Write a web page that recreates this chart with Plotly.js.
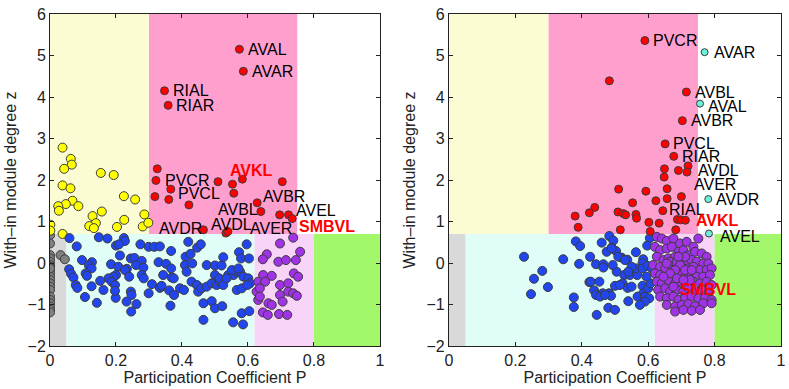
<!DOCTYPE html>
<html>
<head>
<meta charset="utf-8">
<script src="https://cdn.plot.ly/plotly-3.0.1.min.js"></script>
<style>
  html, body { margin: 0; padding: 0; background: #fff; }
  #chart { width: 789px; height: 389px; }
</style>
</head>
<body>
<div id="chart"></div>
<script>
// Role boundaries (participation P and within-module z)
var zHub = 0.7;
var nonHubCuts = [0, 0.05, 0.62, 0.8, 1];
var hubCuts = [0, 0.3, 0.75, 1];
var nonHubColors = ['#d9d9d9', '#e0fdf8', '#f8d4f8', '#a3f76b'];
var hubColors = ['#fcfcd4', '#ff9fce', '#ffffff'];

// ---- Left panel ----
var leftGrayP = [0, 0, 0, 0, 0, 0, 0, 0, 0, 0, 0, 0, 0, 0, 0, 0, 0, 0, 0, 0, 0, 0.032, 0.045];
var leftGrayZ = [0.67, 0.47, 0.19, 0.11, 0.03, -0.05, -0.09, -0.17, -0.25, -0.33, -0.41, -0.49, -0.57, -0.65, -0.81, -0.89, -0.97, -1.05, -1.13, -1.19, -0.13, 0.19, 0.09];

var leftYellowP = [0.038, 0.063, 0.066, 0.043, 0.154, 0.193, 0.038, 0.062, 0.068, 0.048, 0.025, 0.027, 0.086, 0.224, 0.258, 0.157, 0.129, 0.139, 0.119, 0.133, 0.225, 0.203, 0.286, 0.281, 0.298, 0.001, 0.001, 0.038];
var leftYellowZ = [2.78, 2.51, 2.37, 2.27, 2.17, 2.12, 1.87, 1.80, 1.50, 1.42, 1.37, 1.26, 1.37, 1.61, 1.53, 1.24, 1.13, 0.96, 0.89, 0.84, 1.04, 0.87, 1.17, 0.88, 0.97, 0.92, 0.78, 0.70];

var leftBlueP = [0.059, 0.081, 0.148, 0.174, 0.224, 0.227, 0.200, 0.209, 0.274, 0.299, 0.316, 0.333, 0.367, 0.212, 0.245, 0.256, 0.278, 0.097, 0.127, 0.118, 0.126, 0.058, 0.064, 0.071, 0.078, 0.083, 0.108, 0.112, 0.185, 0.207, 0.233, 0.227, 0.261, 0.283, 0.278, 0.284, 0.329, 0.352, 0.367, 0.343, 0.369, 0.309, 0.333, 0.338, 0.361, 0.299, 0.240, 0.200, 0.192, 0.177, 0.187, 0.197, 0.152, 0.162, 0.126, 0.199, 0.197, 0.245, 0.247, 0.106, 0.142, 0.232, 0.262, 0.246, 0.365,
  0.419, 0.446, 0.457, 0.411, 0.426, 0.409, 0.431, 0.414, 0.475, 0.500, 0.520, 0.525, 0.573, 0.596, 0.579, 0.603, 0.375, 0.394, 0.406, 0.429, 0.445, 0.449, 0.459, 0.475, 0.490, 0.505, 0.515, 0.500, 0.513, 0.525, 0.540, 0.556, 0.566, 0.576, 0.586, 0.601, 0.606, 0.551, 0.571, 0.535, 0.566, 0.581, 0.598, 0.465, 0.490, 0.500, 0.522, 0.465, 0.555, 0.585, 0.581, 0.604, 0.376];
var leftBlueZ = [0.60, 0.40, 0.62, 0.59, 0.60, 0.53, 0.42, 0.45, 0.45, 0.39, 0.39, 0.40, 0.29, 0.18, 0.11, 0.12, 0.05, 0.07, 0.02, -0.06, -0.13, -0.15, -0.26, -0.35, -0.53, -0.60, -0.25, -0.31, -0.03, -0.09, -0.14, -0.17, -0.05, -0.11, -0.29, -0.37, 0.02, -0.02, -0.13, -0.29, -0.35, -0.51, -0.60, -0.55, -0.66, -0.73, -0.33, -0.29, -0.33, -0.37, -0.45, -0.53, -0.43, -0.65, -0.56, -0.84, -0.67, -0.69, -0.77, -0.82, -0.96, -0.93, -0.99, -1.17, -1.03,
  0.51, 0.37, 0.45, 0.15, 0.22, -0.05, -0.01, -0.21, -0.05, -0.06, -0.06, 0.14, 0.26, 0.45, 0.11, 0.11, -0.37, -0.61, -0.65, -0.45, -0.53, -0.69, -0.61, -0.57, -0.49, -0.53, -0.45, -0.29, -0.37, -0.53, -0.29, -0.29, -0.21, -0.21, -0.33, -0.37, -0.49, -0.17, -0.13, -0.37, -0.65, -0.61, -0.53, -0.97, -0.92, -1.09, -1.04, -1.37, -1.43, -1.48, -1.21, -1.16, -0.77];

var leftPurpleP = [0.737, 0.697, 0.657, 0.645, 0.745, 0.692, 0.715, 0.758, 0.646, 0.672, 0.631, 0.652, 0.626, 0.636, 0.631, 0.636, 0.697, 0.722, 0.697, 0.722, 0.737, 0.748, 0.662, 0.672, 0.645, 0.660, 0.694, 0.719, 0.705, 0.739, 0.752];
var leftPurpleZ = [0.61, 0.47, 0.21, 0.09, 0.07, 0.03, 0.07, 0.27, -0.29, -0.31, -0.45, -0.45, -0.69, -0.61, -0.89, -0.81, -0.53, -0.49, -0.77, -0.69, -0.73, -0.79, -0.97, -1.01, -1.19, -1.25, -1.23, -1.25, -0.93, -0.25, -0.33];

var leftRedP = [0.574, 0.586, 0.347, 0.358, 0.325, 0.321, 0.509, 0.553, 0.583, 0.704, 0.366, 0.318, 0.360, 0.557, 0.421, 0.628, 0.639, 0.696, 0.723, 0.734, 0.465, 0.533, 0.539];
var leftRedZ = [5.15, 4.62, 4.15, 3.80, 2.27, 1.99, 1.96, 1.90, 2.02, 1.96, 1.78, 1.60, 1.53, 1.68, 1.40, 1.45, 1.24, 1.16, 1.16, 1.07, 0.80, 0.72, 0.76];

var leftLabels = ['AVAL', 'AVAR', 'RIAL', 'RIAR', 'AVKL', 'PVCR', 'PVCL', 'AVBR', 'AVBL', 'AVEL', 'SMBVL', 'AVDR', 'AVDL', 'AVER'];
var leftLabelP = [0.598, 0.608, 0.371, 0.380, 0.543, 0.345, 0.386, 0.643, 0.506, 0.743, 0.752, 0.327, 0.486, 0.604];
var leftLabelZ = [5.15, 4.62, 4.15, 3.80, 2.22, 1.99, 1.67, 1.61, 1.29, 1.26, 0.89, 0.82, 0.92, 0.84];
var leftLabelRed = [0, 0, 0, 0, 1, 0, 0, 0, 0, 0, 1, 0, 0, 0];

// ---- Right panel ----
var rightBlueP = [0.226, 0.256, 0.281, 0.247, 0.298, 0.344, 0.382, 0.395, 0.392, 0.376, 0.376, 0.423, 0.425,
  0.443, 0.465, 0.465, 0.460, 0.483, 0.495, 0.490, 0.503, 0.520, 0.537, 0.563, 0.585, 0.583, 0.505, 0.528, 0.545, 0.567, 0.563, 0.583, 0.598, 0.427, 0.453, 0.437, 0.443, 0.463, 0.482, 0.488, 0.500, 0.523, 0.538, 0.550, 0.583, 0.585, 0.568, 0.590, 0.603, 0.540, 0.445, 0.480, 0.500, 0.605, 0.597,
  0.475, 0.490, 0.510, 0.530, 0.550, 0.540, 0.515, 0.493, 0.455, 0.470, 0.590, 0.575, 0.600, 0.607, 0.595, 0.611];
var rightBlueZ = [0.15, -0.38, -0.19, -0.75, -0.58, 0.09, 0.52, 0.41, -0.02, -0.83, -1.06, -0.46, 0.15,
  -0.03, -0.03, -0.11, 0.49, 0.65, 0.54, 0.37, 0.29, 0.13, 0.08, 0.26, 0.09, 0.00, -0.21, -0.29, -0.29, -0.29, -0.13, -0.13, -0.07, -0.45, -0.45, -0.66, -0.77, -0.73, -0.73, -0.79, -0.55, -0.49, -0.60, -0.57, -0.55, -0.73, -0.81, -0.81, -0.85, -0.92, -1.25, -1.08, -1.13, 0.60, 0.42,
  0.27, 0.35, 0.15, 0.07, -0.09, -0.21, -0.53, -0.05, -0.81, -0.77, -0.93, -1.01, -0.61, -0.49, -0.33, -0.13];

var rightPurpleP = [0.626, 0.641, 0.656, 0.676, 0.696, 0.716, 0.736, 0.751,
  0.620, 0.636, 0.656, 0.671, 0.691, 0.706, 0.721, 0.741, 0.761, 0.776,
  0.626, 0.646, 0.661, 0.681, 0.701, 0.716, 0.731, 0.746, 0.766, 0.781,
  0.615, 0.636, 0.651, 0.671, 0.686, 0.701, 0.721, 0.736, 0.756, 0.776, 0.791,
  0.620, 0.636, 0.656, 0.676, 0.696, 0.711, 0.731, 0.746, 0.766, 0.786,
  0.626, 0.641, 0.661, 0.681, 0.696, 0.716, 0.736, 0.756, 0.776, 0.791,
  0.630, 0.651, 0.666, 0.686, 0.706, 0.721, 0.741, 0.761, 0.781,
  0.636, 0.656, 0.676, 0.691, 0.711, 0.731, 0.751, 0.771, 0.791,
  0.656, 0.681, 0.701, 0.721, 0.741, 0.766, 0.791,
  0.681, 0.706, 0.731, 0.756,
  0.666, 0.686, 0.696, 0.711, 0.681, 0.666, 0.726, 0.686, 0.706, 0.676, 0.646, 0.731, 0.656, 0.711, 0.691];
var rightPurpleZ = [0.63, 0.59, 0.53, 0.59, 0.47, 0.51, 0.39, 0.59,
  0.39, 0.31, 0.35, 0.39, 0.27, 0.31, 0.19, 0.27, 0.23, 0.15,
  0.15, 0.07, 0.11, 0.15, 0.07, 0.03, 0.07, 0.03, -0.01, -0.01,
  -0.05, -0.09, -0.13, -0.05, -0.13, -0.09, -0.13, -0.09, -0.17, -0.17, -0.13,
  -0.25, -0.29, -0.33, -0.29, -0.25, -0.33, -0.29, -0.33, -0.33, -0.29,
  -0.45, -0.49, -0.41, -0.49, -0.45, -0.49, -0.45, -0.49, -0.45, -0.53,
  -0.65, -0.61, -0.69, -0.65, -0.69, -0.61, -0.69, -0.65, -0.73,
  -0.81, -0.85, -0.81, -0.89, -0.85, -0.81, -0.85, -0.85, -0.89,
  -1.01, -1.05, -1.01, -0.99, -1.04, -0.97, -0.97,
  -1.17, -1.13, -1.15, -1.13,
  0.03, 0.03, -0.05, -0.17, -0.17, -0.25, -0.41, -0.37, -0.41, -0.57, -0.33, -0.17, -0.01, 0.15, 0.15];

var rightRedP = [0.590, 0.483, 0.715, 0.703, 0.651, 0.677, 0.720, 0.649, 0.691, 0.717, 0.648, 0.511, 0.593, 0.657, 0.700, 0.657, 0.623, 0.553, 0.439, 0.423, 0.380, 0.509, 0.525, 0.563, 0.644, 0.565, 0.532, 0.688, 0.698, 0.712, 0.389, 0.516, 0.602, 0.633, 0.683, 0.606];
var rightRedZ = [5.36, 4.39, 4.12, 3.43, 2.87, 2.57, 2.34, 2.27, 2.23, 2.19, 2.07, 1.78, 1.73, 1.79, 1.60, 1.55, 1.50, 1.45, 1.34, 1.21, 1.13, 1.23, 1.19, 1.17, 1.26, 1.08, 1.16, 1.05, 1.04, 1.03, 0.86, 0.80, 0.98, 0.96, 0.80, 0.76];

var rightCyanP = [0.770, 0.756, 0.781, 0.783];
var rightCyanZ = [5.08, 3.84, 1.54, 0.71];

var rightLabels = ['PVCR', 'AVAR', 'AVBL', 'AVAL', 'AVBR', 'PVCL', 'RIAR', 'AVDL', 'AVER', 'AVDR', 'RIAL', 'AVKL', 'AVEL', 'SMBVL'];
var rightLabelP = [0.612, 0.794, 0.738, 0.778, 0.726, 0.673, 0.699, 0.746, 0.734, 0.802, 0.661, 0.740, 0.812, 0.694];
var rightLabelZ = [5.36, 5.07, 4.12, 3.78, 3.43, 2.87, 2.57, 2.23, 1.90, 1.54, 1.29, 1.02, 0.63, -0.63];
var rightLabelRed = [0, 0, 0, 0, 0, 0, 0, 0, 0, 0, 0, 1, 0, 1];

var edge = '#3c3c3c';

function dots(px, pz, color, size, xa, ya) {
    return {
        x: px, y: pz, xaxis: xa, yaxis: ya,
        type: 'scatter', mode: 'markers', hoverinfo: 'skip',
        marker: { color: color, size: size, line: { color: edge, width: 1 } }
    };
}

function roleShapes(xref, yref) {
    var shapes = [];
    for (var i = 0; i < nonHubColors.length; i++) {
        shapes.push({ type: 'rect', xref: xref, yref: yref, layer: 'below',
            x0: nonHubCuts[i], x1: nonHubCuts[i + 1], y0: -2, y1: zHub,
            fillcolor: nonHubColors[i], line: { width: 0 } });
    }
    for (var j = 0; j < hubColors.length; j++) {
        shapes.push({ type: 'rect', xref: xref, yref: yref, layer: 'below',
            x0: hubCuts[j], x1: hubCuts[j + 1], y0: zHub, y1: 6,
            fillcolor: hubColors[j], line: { width: 0 } });
    }
    return shapes;
}

function labelNotes(names, lp, lz, red, xref, yref) {
    var notes = [];
    for (var i = 0; i < names.length; i++) {
        notes.push({
            x: lp[i], y: lz[i], xref: xref, yref: yref,
            text: red[i] ? '<b>' + names[i] + '</b>' : names[i],
            showarrow: false, xanchor: 'left', yanchor: 'middle',
            borderpad: 0,
            font: { size: 16, color: red[i] ? '#ff0000' : '#000000' }
        });
    }
    return notes;
}

var data = [
    dots(leftGrayP, leftGrayZ, '#808080', 9, 'x', 'y'),
    dots(leftYellowP, leftYellowZ, '#ffff00', 9, 'x', 'y'),
    dots(leftBlueP, leftBlueZ, '#2146f0', 9, 'x', 'y'),
    dots(leftPurpleP, leftPurpleZ, '#a033e6', 9, 'x', 'y'),
    dots(leftRedP, leftRedZ, '#ff0000', 8, 'x', 'y'),
    dots(rightBlueP, rightBlueZ, '#2146f0', 9, 'x2', 'y2'),
    dots(rightPurpleP, rightPurpleZ, '#a033e6', 9, 'x2', 'y2'),
    dots(rightRedP, rightRedZ, '#ff0000', 8, 'x2', 'y2'),
    dots(rightCyanP, rightCyanZ, '#6ff0d8', 7, 'x2', 'y2')
];

var xAxisBase = {
    range: [0, 1], tickvals: [0, 0.2, 0.4, 0.6, 0.8, 1], ticktext: ['0', '0.2', '0.4', '0.6', '0.8', '1'],
    showgrid: false, zeroline: false, showline: true, mirror: 'ticks',
    linecolor: '#222', linewidth: 1, ticks: 'inside', ticklen: 4, tickcolor: '#222',
    tickfont: { size: 16 },
    title: { text: 'Participation Coefficient P', font: { size: 16 }, standoff: 3 }
};
var yAxisBase = {
    range: [-2, 6], tickvals: [-2, -1, 0, 1, 2, 3, 4, 5, 6],
    showgrid: false, zeroline: false, showline: true, mirror: 'ticks',
    linecolor: '#222', linewidth: 1, ticks: 'inside', ticklen: 4, tickcolor: '#222',
    tickfont: { size: 16 },
    title: { text: 'With\u2013in module degree z', font: { size: 16 }, standoff: 6 }
};

var layout = {
    width: 789, height: 389,
    margin: { l: 50, r: 8, t: 14, b: 43 },
    paper_bgcolor: '#ffffff', plot_bgcolor: '#ffffff',
    showlegend: false,
    font: { family: '"Liberation Sans", Arial, sans-serif', size: 16, color: '#222' },
    xaxis: Object.assign({}, xAxisBase, { domain: [0, 0.4514], anchor: 'y' }),
    yaxis: Object.assign({}, yAxisBase, { domain: [0, 1], anchor: 'x' }),
    xaxis2: Object.assign({}, xAxisBase, { domain: [0.5458, 1], anchor: 'y2' }),
    yaxis2: Object.assign({}, yAxisBase, { domain: [0, 1], anchor: 'x2' }),
    shapes: roleShapes('x', 'y').concat(roleShapes('x2', 'y2')),
    annotations: labelNotes(leftLabels, leftLabelP, leftLabelZ, leftLabelRed, 'x', 'y')
        .concat(labelNotes(rightLabels, rightLabelP, rightLabelZ, rightLabelRed, 'x2', 'y2'))
};

Plotly.newPlot('chart', data, layout, { staticPlot: true, displayModeBar: false });
</script>
</body>
</html>
